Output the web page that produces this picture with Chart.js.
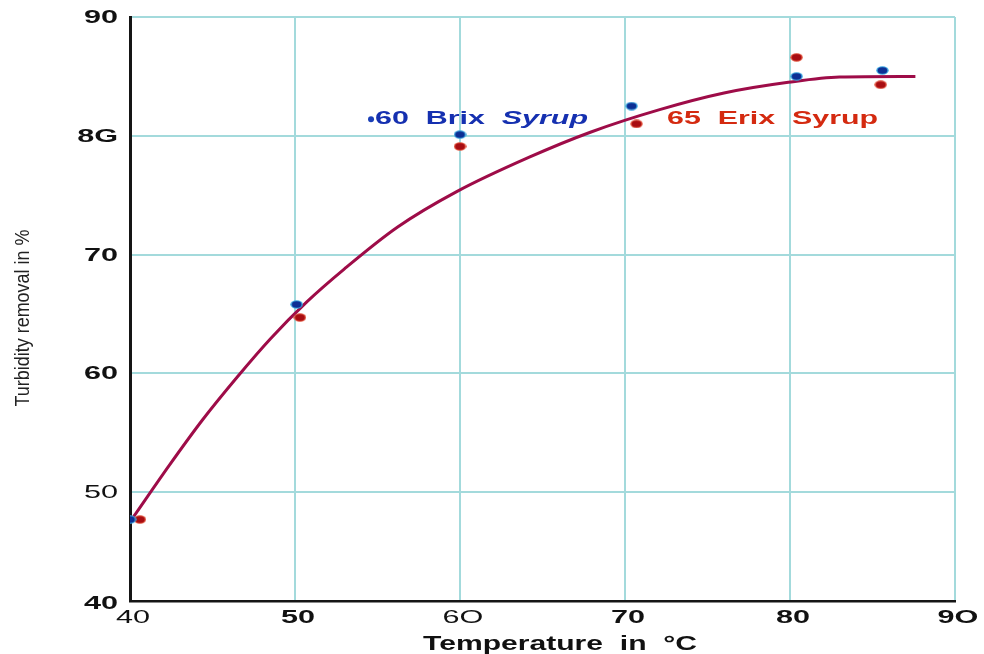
<!DOCTYPE html>
<html>
<head>
<meta charset="utf-8">
<script src="https://cdn.jsdelivr.net/npm/chart.js@4"></script>
<style>
  html, body { margin: 0; padding: 0; background: #fff; }
  #wrap { width: 984px; height: 654px; }
</style>
</head>
<body>
<div id="wrap"><canvas id="chart" width="984" height="654"></canvas></div>
<script>
// values
const xTicks = [40, 50, 60, 70, 80, 90];
const xTickLabels = ['40', '50', '6O', '70', '80', '9O'];
const yTicks = [40, 50, 60, 70, 80, 90];
const yTickLabels = ['40', '50', '60', '70', '8G', '90'];

const brix60X = [40, 50.1, 60, 70.4, 80.4, 85.6];
const brix60Y = [47.7, 65.8, 80.1, 82.5, 85.0, 85.5];
const brix65X = [40.6, 50.3, 60, 70.7, 80.4, 85.5];
const brix65Y = [47.7, 64.7, 79.1, 81.0, 86.6, 84.3];

// fitted curve
const fitX = [40.2, 42.4, 44.4, 46.5, 48.5, 50.7, 53, 56.2, 59.8, 64.2, 67.9, 72.1, 76, 79.9, 83, 87.6];
const fitY = [47.9, 52.3, 56.1, 59.7, 62.9, 66.0, 68.8, 72.3, 75.3, 78.2, 80.3, 82.2, 83.6, 84.5, 84.95, 85.0];

const seriesLabels = ['60 Brix Syrup', '65 Erix Syrup'];
const labelAt = [[54.85, 81.4], [72.55, 81.4]];

const xTitle = 'Temperature  in  °C';
const yTitle = 'Turbidity removal in %';

const toPoints = (xs, ys) => xs.map((x, i) => ({ x: x, y: ys[i] }));

// the picture is stretched sideways, so the points look like flat ovals
function oval(fill, edge) {
    const c = document.createElement('canvas');
    c.width = 13; c.height = 9;
    const g = c.getContext('2d');
    g.fillStyle = edge;
    g.beginPath(); g.ellipse(6.5, 4.5, 6.2, 4.2, 0, 0, Math.PI * 2); g.fill();
    g.fillStyle = fill;
    g.beginPath(); g.ellipse(6.5, 4.5, 4.8, 3.2, 0, 0, Math.PI * 2); g.fill();
    return c;
}

const FONT = '"Liberation Sans", Arial, sans-serif';

// text scaled sideways to a given width
function wideText(ctx, text, x, y, sx, align) {
    ctx.save();
    ctx.translate(x, y);
    ctx.scale(sx, 1);
    ctx.textAlign = align;
    ctx.fillText(text, 0, 0);
    ctx.restore();
}

const textPlugin = {
    id: 'texts',
    afterDatasetsDraw(chart) {
        const ctx = chart.ctx;
        const xs = chart.scales.x, ys = chart.scales.y;
        const area = chart.chartArea;
        ctx.save();
        ctx.textBaseline = 'middle';

        // blue label, "Syrup" in italics
        let px = xs.getPixelForValue(labelAt[0][0]);
        let py = ys.getPixelForValue(labelAt[0][1]);
        ctx.fillStyle = '#ffffff';
        ctx.fillRect(px + 150, py - 11, 62, 20);
        ctx.fillStyle = '#1a3fb8';
        ctx.beginPath();
        ctx.arc(px - 4, py, 3, 0, Math.PI * 2);
        ctx.fill();
        const parts = seriesLabels[0].split(' ');
        const head = parts.slice(0, 2).join('  ') + '  ';
        ctx.font = 'bold 18px ' + FONT;
        const w1 = ctx.measureText(head).width;
        ctx.font = 'italic bold 18px ' + FONT;
        const w2 = ctx.measureText(parts[2]).width;
        const sx = 213 / (w1 + w2);
        ctx.translate(px, py);
        ctx.scale(sx, 1);
        ctx.fillStyle = '#1530b0';
        ctx.textAlign = 'left';
        ctx.font = 'bold 18px ' + FONT;
        ctx.fillText(head, 0, 0);
        ctx.font = 'italic bold 18px ' + FONT;
        ctx.fillText(parts[2], w1, 0);
        ctx.setTransform(1, 0, 0, 1, 0, 0);

        // red label
        px = xs.getPixelForValue(labelAt[1][0]);
        py = ys.getPixelForValue(labelAt[1][1]);
        ctx.fillStyle = '#d42a10';
        ctx.font = 'bold 18px ' + FONT;
        const red = seriesLabels[1].split(' ').join('  ');
        wideText(ctx, red, px, py, 211 / ctx.measureText(red).width, 'left');

        // tick labels
        ctx.fillStyle = '#111';
        yTicks.forEach((v, i) => {
            const y = Math.min(ys.getPixelForValue(v), area.bottom + 2);
            ctx.font = (v === 50 ? '' : 'bold ') + '18px ' + FONT;
            wideText(ctx, yTickLabels[i], 118, y + 1, 1.7, 'right');
        });
        xTicks.forEach((v, i) => {
            const x = xs.getPixelForValue(v);
            ctx.font = (v === 40 || v === 60 ? '' : 'bold ') + '18px ' + FONT;
            wideText(ctx, xTickLabels[i], x + 3, area.bottom + 17, 1.7, 'center');
        });

        // axis titles
        ctx.font = 'bold 20px ' + FONT;
        wideText(ctx, xTitle, 560, 644, 274 / ctx.measureText(xTitle).width, 'center');
        ctx.font = '21px "Liberation Sans Narrow", "Arial Narrow", ' + FONT;
        ctx.fillStyle = '#222';
        const tw = ctx.measureText(yTitle).width;
        ctx.translate(23, 318);
        ctx.rotate(-Math.PI / 2);
        ctx.scale(177 / tw, 1);
        ctx.textAlign = 'center';
        ctx.fillText(yTitle, 0, 0);
        ctx.restore();
    }
};

new Chart(document.getElementById('chart'), {
    type: 'scatter',
    data: {
        datasets: [
            {
                type: 'line',
                label: 'fit',
                data: toPoints(fitX, fitY),
                borderColor: '#9e0c48',
                borderWidth: 3,
                pointRadius: 0,
                cubicInterpolationMode: 'monotone',
                fill: false,
                order: 2
            },
            {
                label: seriesLabels[0],
                data: toPoints(brix60X, brix60Y),
                pointStyle: oval('#0d2f94', '#3aa6e0'),
                order: 1
            },
            {
                label: seriesLabels[1],
                data: toPoints(brix65X, brix65Y),
                pointStyle: oval('#a80d12', '#e0503a'),
                order: 1
            }
        ]
    },
    options: {
        responsive: false,
        animation: false,
        layout: { padding: { top: 17, right: 29, left: 0, bottom: 0 } },
        plugins: {
            legend: { display: false },
            tooltip: { enabled: false }
        },
        scales: {
            x: {
                type: 'linear',
                min: 40,
                max: 90,
                afterBuildTicks: s => { s.ticks = xTicks.map(v => ({ value: v })); },
                afterFit: s => { s.height = 53; },
                ticks: { display: false },
                grid: { color: '#a3dadc', lineWidth: 2, drawTicks: false },
                border: { color: '#151515', width: 2.5 }
            },
            y: {
                type: 'linear',
                // bottom of the printed axis sits a little above 40 on the picture's grid spacing
                min: 40.84,
                max: 90,
                afterBuildTicks: s => { s.ticks = yTicks.filter(v => v > 40).map(v => ({ value: v })); },
                afterFit: s => { s.width = 130; },
                ticks: { display: false },
                grid: { color: '#a3dadc', lineWidth: 2, drawTicks: false },
                border: { color: '#151515', width: 3 }
            }
        }
    },
    plugins: [textPlugin]
});
</script>
</body>
</html>
